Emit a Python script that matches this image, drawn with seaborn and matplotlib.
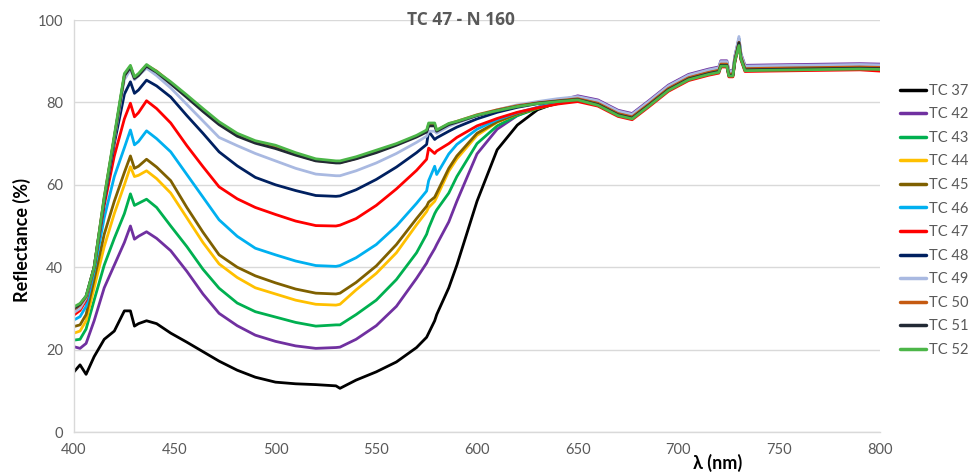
import matplotlib
matplotlib.use("Agg")
import matplotlib.pyplot as plt
import seaborn as sns
import pandas as pd

wavelength = [400, 403, 406, 410, 415, 420, 425, 428, 430, 432,
              436, 441, 448, 456, 464, 472, 481, 490, 500, 510,
              520, 530, 532, 540, 550, 560, 570, 575, 576, 579,
              580, 586, 590, 600, 610, 620, 630, 640, 650,
              660, 670, 677, 685, 695, 705, 715, 720, 721, 724,
              725, 727, 728, 730, 731, 733, 745, 760, 775, 790, 800]

tc37 = [14.6, 16.3, 14.0, 18.3, 22.5, 24.5, 29.4, 29.4, 25.7, 26.3,
        27.0, 26.3, 24.0, 21.8, 19.5, 17.2, 15.0, 13.3, 12.1, 11.7,
        11.5, 11.2, 10.6, 12.6, 14.6, 17.0, 20.5, 23.0, 24.0, 27.0,
        28.5, 35.0, 40.5, 56.0, 68.5, 74.5, 78.2, 80.0, 81.0,
        79.4, 76.9, 76.1, 79.1, 83.0, 85.6, 86.9, 87.4, 88.9, 88.9,
        86.5, 86.5, 90.1, 94.6, 90.6, 87.8, 87.9, 88.0, 88.1, 88.2, 88.1]
tc42 = [20.7, 20.3, 21.5, 27.0, 35.0, 40.5, 46.0, 50.0, 46.8, 47.5,
        48.6, 47.0, 44.0, 39.0, 33.5, 28.8, 25.8, 23.5, 22.0, 20.9,
        20.3, 20.5, 20.6, 22.5, 25.8, 30.5, 37.3, 41.0, 42.0, 44.5,
        45.5, 51.0, 56.0, 67.5, 73.5, 76.8, 78.8, 80.3, 81.6,
        80.6, 78.1, 77.3, 80.3, 84.2, 86.8, 88.1, 88.6, 90.1, 90.1,
        87.7, 87.7, 91.3, 95.5, 91.8, 89.0, 89.1, 89.2, 89.3, 89.4, 89.3]
tc43 = [22.3, 22.5, 25.0, 32.0, 40.5, 47.0, 53.0, 57.8, 55.0, 55.5,
        56.5, 54.5, 50.0, 45.0, 39.5, 34.9, 31.3, 29.2, 27.9, 26.6,
        25.7, 26.0, 26.0, 28.5, 32.0, 37.0, 43.5, 48.0, 49.5, 53.0,
        53.9, 58.0, 62.0, 70.0, 74.3, 76.8, 78.5, 79.8, 80.9,
        80.0, 77.5, 76.7, 79.7, 83.6, 86.2, 87.5, 88.0, 89.5, 89.5,
        87.1, 87.1, 90.7, 95.0, 91.2, 88.4, 88.5, 88.6, 88.7, 88.8, 88.7]
tc44 = [24.0, 24.5, 27.0, 35.0, 45.0, 53.0, 60.0, 64.4, 62.0, 62.3,
        63.4, 61.5, 58.0, 52.0, 46.0, 40.8, 37.5, 35.0, 33.5, 32.0,
        31.0, 30.8, 31.0, 34.5, 38.5, 43.5, 50.3, 53.5, 54.5, 56.0,
        57.0, 63.3, 66.3, 72.0, 75.2, 77.2, 78.6, 79.8, 80.9,
        80.1, 77.6, 76.8, 79.8, 83.7, 86.3, 87.6, 88.1, 89.6, 89.6,
        87.2, 87.2, 90.8, 95.2, 91.3, 88.5, 88.6, 88.7, 88.8, 88.9, 88.8]
tc45 = [25.6, 26.0, 28.5, 37.0, 48.0, 56.0, 63.0, 67.0, 64.0, 64.5,
        66.2, 64.3, 61.0, 54.5, 48.5, 43.0, 40.0, 37.9, 36.2, 34.7,
        33.7, 33.5, 33.7, 36.3, 40.3, 45.5, 51.8, 54.8, 55.8, 57.0,
        58.0, 64.0, 67.0, 72.5, 75.3, 77.2, 78.6, 79.7, 80.7,
        79.9, 77.4, 76.6, 79.6, 83.5, 86.1, 87.4, 87.9, 89.4, 89.4,
        87.0, 87.0, 90.6, 95.0, 91.1, 88.3, 88.4, 88.5, 88.6, 88.7, 88.6]
tc46 = [27.2, 28.0, 30.5, 39.0, 52.0, 62.0, 69.0, 73.3, 69.7, 70.5,
        73.1, 71.2, 68.0, 62.5, 57.0, 51.5, 47.5, 44.6, 43.0, 41.5,
        40.4, 40.2, 40.4, 42.3, 45.5, 50.0, 55.5, 58.5, 61.0, 64.5,
        62.5, 67.5, 69.8, 73.5, 75.8, 77.5, 78.8, 79.9, 80.8,
        80.2, 77.7, 76.9, 79.9, 83.8, 86.4, 87.7, 88.2, 89.7, 89.7,
        87.3, 87.3, 90.9, 95.4, 91.4, 88.6, 88.7, 88.8, 88.9, 89.0, 88.9]
tc47 = [28.4, 29.5, 32.0, 40.0, 55.0, 67.0, 76.0, 79.8, 76.5, 77.5,
        80.4, 78.5, 75.0, 69.5, 64.4, 59.5, 56.6, 54.5, 52.8, 51.2,
        50.1, 50.0, 50.2, 51.8, 55.0, 59.0, 63.5, 66.2, 68.9, 67.6,
        68.2, 70.0, 71.5, 74.3, 76.1, 77.6, 78.7, 79.6, 80.2,
        79.1, 76.6, 75.8, 78.8, 82.7, 85.3, 86.6, 87.1, 88.6, 88.6,
        86.2, 86.2, 89.8, 94.0, 90.3, 87.5, 87.6, 87.7, 87.8, 87.9, 87.6]
tc48 = [29.5, 30.5, 32.5, 40.0, 56.0, 70.0, 82.0, 85.0, 82.2, 83.0,
        85.4, 84.0, 81.3, 76.8, 72.5, 68.0, 64.6, 61.8, 60.0, 58.6,
        57.4, 57.2, 57.3, 58.8, 61.3, 64.3, 67.8, 69.8, 73.0, 71.0,
        71.4, 73.0, 74.0, 76.0, 77.6, 78.8, 79.7, 80.3, 80.8,
        79.6, 77.1, 76.3, 79.3, 83.2, 85.8, 87.1, 87.6, 89.1, 89.1,
        86.7, 86.7, 90.3, 94.8, 90.8, 88.0, 88.1, 88.2, 88.3, 88.4, 88.3]
tc49 = [29.0, 30.0, 32.5, 40.0, 56.5, 71.0, 85.5, 88.0, 85.5, 86.5,
        88.3, 86.5, 83.5, 79.5, 75.5, 71.5, 69.5, 67.6, 65.8, 64.0,
        62.6, 62.2, 62.2, 63.4, 65.3, 67.6, 70.3, 71.8, 73.0, 73.0,
        72.5, 74.2, 75.0, 76.7, 78.2, 79.4, 80.2, 80.9, 81.4,
        80.4, 77.9, 77.1, 80.1, 84.0, 86.6, 87.9, 88.4, 89.9, 89.9,
        87.5, 87.5, 91.1, 96.0, 91.6, 88.8, 88.9, 89.0, 89.1, 89.2, 89.1]
tc50 = [29.8, 30.8, 32.8, 40.0, 57.0, 71.5, 86.5, 88.7, 86.0, 86.8,
        89.0, 87.6, 84.8, 81.5, 78.1, 75.0, 72.1, 70.3, 69.0, 67.4,
        65.9, 65.4, 65.4, 66.4, 68.0, 69.8, 71.8, 73.0, 74.6, 74.6,
        73.2, 74.8, 75.4, 77.0, 78.2, 79.2, 79.9, 80.4, 80.9,
        79.8, 77.3, 76.5, 79.5, 83.4, 86.0, 87.3, 87.8, 89.3, 89.3,
        86.9, 86.9, 90.5, 94.6, 91.0, 88.2, 88.3, 88.4, 88.5, 88.6, 88.5]
tc51 = [30.0, 31.0, 33.0, 40.0, 56.5, 71.5, 86.5, 88.5, 85.8, 86.5,
        88.8, 87.3, 84.5, 81.2, 77.8, 74.6, 71.8, 70.1, 68.8, 67.2,
        65.8, 65.3, 65.3, 66.3, 67.8, 69.6, 71.6, 72.8, 74.3, 74.3,
        73.0, 74.6, 75.2, 76.8, 78.0, 79.0, 79.8, 80.3, 80.7,
        79.5, 77.0, 76.2, 79.2, 83.1, 85.7, 87.0, 87.5, 89.0, 89.0,
        86.6, 86.6, 90.2, 94.5, 90.7, 87.9, 88.0, 88.1, 88.2, 88.3, 88.2]
tc52 = [30.4, 31.2, 33.0, 40.0, 57.0, 72.0, 87.0, 89.0, 86.2, 87.0,
        89.2, 87.5, 85.0, 81.8, 78.5, 75.3, 72.5, 70.7, 69.6, 67.8,
        66.3, 65.8, 65.8, 66.8, 68.4, 70.0, 72.0, 73.3, 75.0, 75.0,
        73.3, 74.9, 75.4, 76.9, 78.0, 79.0, 79.7, 80.2, 80.6,
        79.3, 76.8, 76.0, 79.0, 82.9, 85.5, 86.8, 87.3, 88.8, 88.8,
        86.4, 86.4, 90.0, 93.8, 90.5, 87.7, 87.8, 87.9, 88.0, 88.1, 88.0]

series_names = ["TC 37", "TC 42", "TC 43", "TC 44", "TC 45", "TC 46",
                "TC 47", "TC 48", "TC 49", "TC 50", "TC 51", "TC 52"]
series_values = [tc37, tc42, tc43, tc44, tc45, tc46,
                 tc47, tc48, tc49, tc50, tc51, tc52]
colors = ["#000000", "#7030A0", "#00B050", "#FFC000", "#7F6000", "#00B0F0",
          "#FF0000", "#002060", "#A9B9E1", "#C55A11", "#222A35", "#4CB648"]

x_ticks = [400, 450, 500, 550, 600, 650, 700, 750, 800]
y_ticks = [0, 20, 40, 60, 80, 100]

rows = []
for name, vals in zip(series_names, series_values):
    for w, v in zip(wavelength, vals):
        rows.append({"wl": w, "R": v, "series": name})
df = pd.DataFrame(rows)

sns.set_theme(style="white")
plt.rcParams["font.family"] = ["Lato", "DejaVu Sans"]

fig = plt.figure(figsize=(9.73, 4.75), dpi=100)
ax = fig.add_axes([74 / 973, 1 - 432 / 475, (880 - 74) / 973, (432 - 20) / 475])

sns.lineplot(data=df, x="wl", y="R", hue="series", hue_order=series_names,
             palette=dict(zip(series_names, colors)), linewidth=2.0,
             estimator=None, sort=False, ax=ax)

ax.set_xlim(400, 800)
ax.set_ylim(0, 100)
ax.set_xticks(x_ticks)
ax.set_yticks(y_ticks)
ax.tick_params(axis="both", length=0, labelsize=10.5, labelcolor="#595959", pad=8)
ax.yaxis.grid(True, color="#D9D9D9", linewidth=1.0)
ax.xaxis.grid(False)
ax.set_axisbelow(True)
for s in ["top", "right"]:
    ax.spines[s].set_visible(False)
for s in ["left", "bottom"]:
    ax.spines[s].set_color("#D9D9D9")
    ax.spines[s].set_linewidth(1.0)
ax.set_xlabel("")
ax.set_ylabel("")

ax.text(0.48, 1.0, "TC 47 - N 160", transform=ax.transAxes, ha="center", va="center",
        fontsize=12.5, fontweight="bold", color="#595959",
        family=["Open Sans", "DejaVu Sans"])
fig.text(22 / 973, 1 - 240 / 475, "Reflectance (%)", rotation=90, ha="center", va="center",
         fontsize=13, fontweight="bold", color="#000000")
fig.text(718 / 973, 1 - 463 / 475, "λ (nm)", ha="center", va="center",
         fontsize=13, fontweight="bold", color="#000000")

leg = ax.legend(loc="upper left", bbox_to_anchor=(1.008, 0.877), frameon=False,
                fontsize=10.5, handlelength=1.8, handletextpad=0.25, labelspacing=0.655)
for t in leg.get_texts():
    t.set_color("#595959")
for h in leg.get_lines():
    h.set_linewidth(2.5)

fig.savefig("out.png", dpi=100)
